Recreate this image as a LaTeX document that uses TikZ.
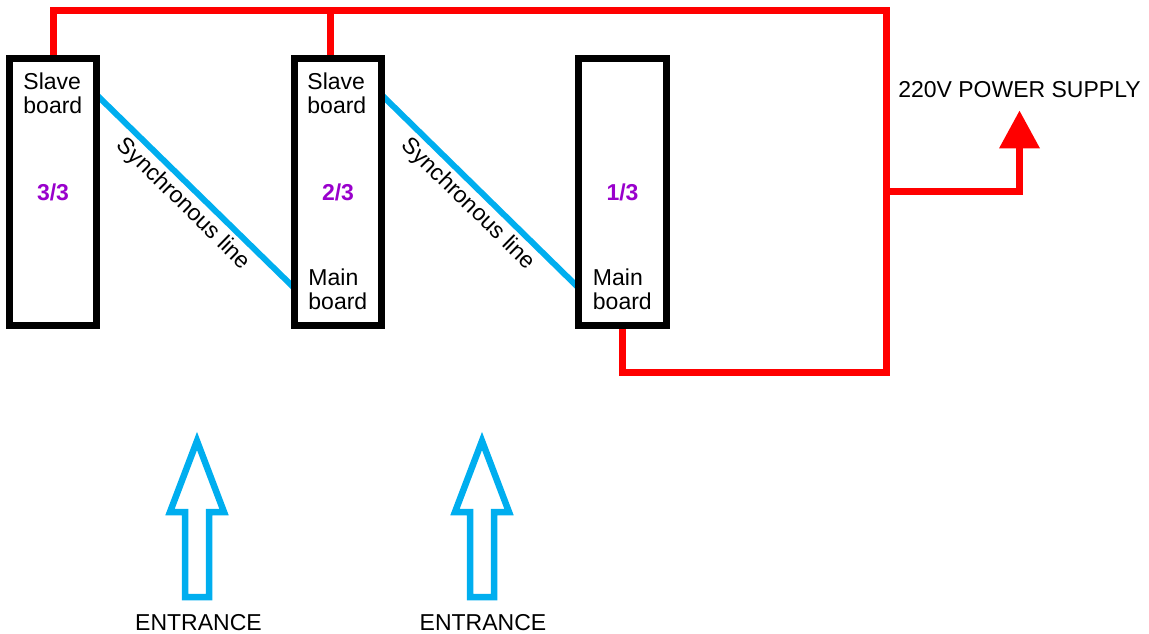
\documentclass[tikz,border=0pt]{standalone}
\usepackage{fontspec}
\setmainfont{Liberation Sans}
\usetikzlibrary{calc,backgrounds,arrows.meta}
\definecolor{wirered}{RGB}{255,0,0}
\definecolor{syncblue}{RGB}{0,174,239}
\definecolor{partpurple}{RGB}{153,0,204}

\begin{document}
\begin{tikzpicture}[x=1pt,y=-1pt,
board/.style={draw=black, line width=7pt, minimum width=87.5pt, minimum height=266pt, inner sep=0pt, outer sep=0pt, font=\fontsize{23}{24}\selectfont\bfseries, text=partpurple},
lbl/.style={inner sep=0pt, align=left, font=\fontsize{23}{24}\selectfont},
wire/.style={draw=wirered, line width=7pt},
sync/.style={draw=syncblue, line width=6pt},
entry/.style={draw=syncblue, line width=6.5pt},
]
\useasboundingbox (0,0) rectangle (1149,634);

% boards
\node[board] (b3) at (53,192) {3/3};
\node[board] (b2) at (338,192) {2/3};
\node[board] (b1) at (622.5,192) {1/3};

\node[lbl, anchor=north west] at ($(b3.north west)+(14,14)$) {Slave\\board};
\node[lbl, anchor=north west] at ($(b2.north west)+(13,14)$) {Slave\\board};
\node[lbl, anchor=south west] at ($(b2.south west)+(14,-15)$) {Main\\board};
\node[lbl, anchor=south west] at ($(b1.south west)+(14,-15)$) {Main\\board};

% power
\node[lbl, anchor=base] (psu) at (1019.5,97) {220V POWER SUPPLY};
\coordinate (top) at (886.5,11);
\coordinate (bot) at (886.5,372.5);
\coordinate (tap) at (886.5,191.5);

\begin{scope}[on background layer]
\draw[wire] (b3.north) |- (top) -- (bot) -| (b1.south);
\draw[wire] (330,11) -- (330,60);
\draw[wire, -{Triangle[width=39pt,length=38pt]}] (tap) -| ($(psu.south)+(0,13)$);
\draw[sync] ($(b3.north east)+(0,36)$) -- node[midway, sloped, below, lbl, inner sep=4pt] {Synchronous line} ($(b2.north west)+(0,229)$);
\draw[sync] ($(b2.north east)+(0,36)$) -- node[midway, sloped, below, lbl, inner sep=4pt] {Synchronous line} ($(b1.north west)+(0,229)$);
\end{scope}

% entrances
\node[lbl, anchor=base] (ent1) at (198.5,630) {ENTRANCE};
\node[lbl, anchor=base] (ent2) at (483,630) {ENTRANCE};
\draw[entry] (197,441)--+(27,71)--+(12,71)--+(12,156)--+(-12,156)--+(-12,71)--+(-27,71)--cycle;
\draw[entry] (482,441)--+(27,71)--+(12,71)--+(12,156)--+(-12,156)--+(-12,71)--+(-27,71)--cycle;
\end{tikzpicture}
\end{document}
